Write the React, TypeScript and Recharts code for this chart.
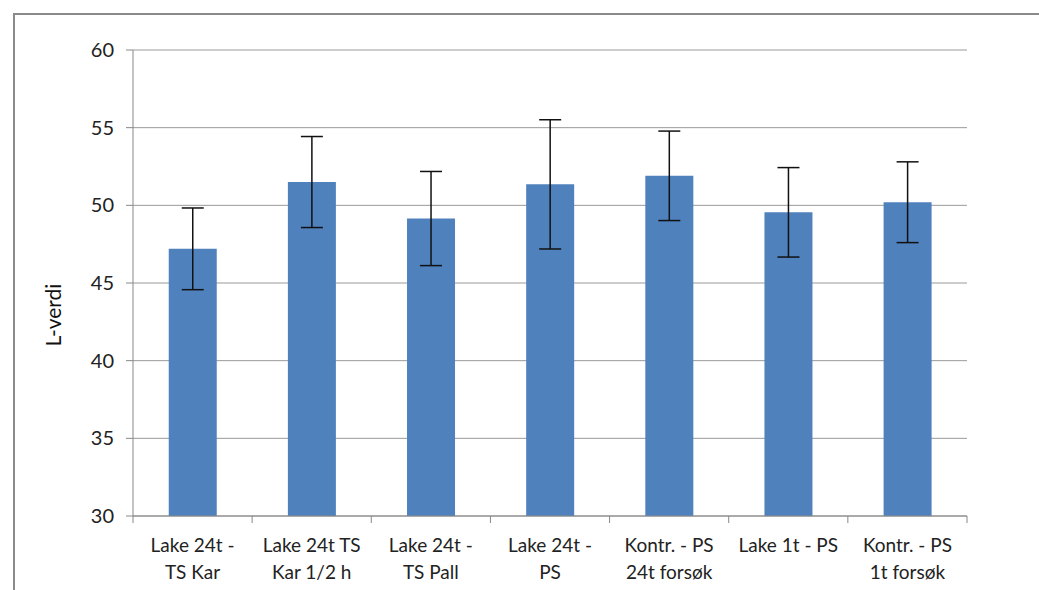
import { BarChart, Bar, XAxis, YAxis, CartesianGrid, ErrorBar } from "recharts";

const categories = [
  "Lake 24t -\nTS Kar",
  "Lake 24t TS\nKar 1/2 h",
  "Lake 24t -\nTS Pall",
  "Lake 24t -\nPS",
  "Kontr. - PS\n24t forsøk",
  "Lake 1t - PS",
  "Kontr. - PS\n1t forsøk",
];
const means = [47.2, 51.5, 49.15, 51.35, 51.9, 49.55, 50.2];
const errors = [2.63, 2.93, 3.03, 4.16, 2.88, 2.88, 2.6];
const yTicks = [30, 35, 40, 45, 50, 55, 60];

const data = categories.map((name, i) => ({ name, value: means[i], err: errors[i] }));

const W = 1039;
const H = 590;
const M = { top: 50, right: 72, left: 60, bottom: 0 };
const Y_W = 73;
const X_H = 74;
const FONT = "Lato, 'Open Sans', sans-serif";
const band = (W - M.left - Y_W - M.right) / categories.length;

const XTick = (props: any) => {
  const { x, y, payload, index } = props;
  const lines = String(payload.value).split("\n");
  return (
    <g>
      <line x1={x - band / 2} y1={y - 8} x2={x - band / 2} y2={y - 1} stroke="#888" />
      {index === categories.length - 1 && (
        <line x1={x + band / 2} y1={y - 8} x2={x + band / 2} y2={y - 1} stroke="#888" />
      )}
      <text x={x} y={y + 28} textAnchor="middle" fill="#222" fontSize={19} fontFamily={FONT}>
        {lines.map((l, i) => (
          <tspan key={i} x={x} dy={i === 0 ? 0 : 27}>
            {l}
          </tspan>
        ))}
      </text>
    </g>
  );
};

const YLabel = () => (
  <text
    x={52}
    y={315}
    transform="rotate(-90 52 315)"
    textAnchor="middle"
    dominantBaseline="central"
    fill="#111"
    fontSize={21}
    fontFamily={FONT}
  >
    L-verdi
  </text>
);

export default function App() {
  return (
    <div style={{ position: "absolute", left: 0, top: 0, width: W, height: H, background: "#fff" }}>
      <div
        style={{
          position: "absolute",
          left: 13,
          top: 13,
          right: 0,
          bottom: 0,
          borderTop: "2px solid #8a8a8a",
          borderLeft: "2px solid #8a8a8a",
        }}
      />
      <BarChart width={W} height={H} data={data} margin={M} barCategoryGap="30%">
        <CartesianGrid vertical={false} stroke="#999" />
        <XAxis
          dataKey="name"
          height={X_H}
          stroke="#888"
          tickLine={false}
          interval={0}
          tick={<XTick />}
        />
        <YAxis
          width={Y_W}
          domain={[30, 60]}
          ticks={yTicks}
          stroke="#888"
          tickSize={7}
          tickMargin={12}
          tick={{ fill: "#222", fontSize: 20, fontFamily: FONT }}
          label={{ content: <YLabel /> }}
        />
        <Bar dataKey="value" fill="#4F81BD" isAnimationActive={false}>
          <ErrorBar dataKey="err" width={11} stroke="#111" strokeWidth={1.5} isAnimationActive={false} />
        </Bar>
      </BarChart>
    </div>
  );
}
